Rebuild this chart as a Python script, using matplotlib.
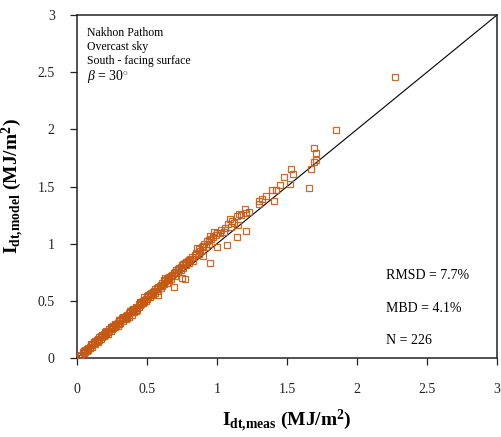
import matplotlib
matplotlib.use("Agg")
import matplotlib.pyplot as plt

plt.rcParams["font.family"] = ["Liberation Serif", "DejaVu Serif"]
plt.rcParams["mathtext.fontset"] = "custom"
plt.rcParams["mathtext.rm"] = "Liberation Serif"
plt.rcParams["mathtext.it"] = "Liberation Serif:italic"
plt.rcParams["mathtext.bf"] = "Liberation Serif:bold"

meas = [
    0.02, 0.03, 0.04, 0.05, 0.05, 0.06, 0.07, 0.07, 0.08, 0.08, 0.09, 0.09, 0.10, 0.10, 0.11, 0.11, 0.12, 0.12, 0.13, 0.13,
    0.14, 0.14, 0.15, 0.15, 0.16, 0.16, 0.17, 0.17, 0.18, 0.18, 0.19, 0.19, 0.20, 0.20, 0.20, 0.21, 0.21, 0.22, 0.22, 0.23,
    0.23, 0.24, 0.24, 0.25, 0.25, 0.26, 0.26, 0.27, 0.27, 0.28, 0.28, 0.29, 0.29, 0.30, 0.30, 0.30,
    0.31, 0.31, 0.32, 0.32, 0.33, 0.33, 0.34, 0.34, 0.35, 0.35, 0.36, 0.36, 0.37, 0.37, 0.38, 0.38, 0.39, 0.39, 0.40, 0.40,
    0.41, 0.41, 0.42, 0.42, 0.43, 0.43, 0.44, 0.44, 0.45, 0.45, 0.46, 0.46, 0.47, 0.47, 0.48, 0.48, 0.49, 0.49, 0.50, 0.50,
    0.51, 0.51,
    0.52, 0.52, 0.53, 0.54, 0.54, 0.55, 0.56, 0.56, 0.57, 0.58, 0.58, 0.59, 0.60, 0.60, 0.61, 0.62, 0.62, 0.63, 0.64, 0.64,
    0.65, 0.66, 0.66, 0.67, 0.68, 0.69, 0.69, 0.70, 0.70, 0.71, 0.72, 0.72, 0.73, 0.74, 0.74, 0.75, 0.75, 0.76, 0.77, 0.77,
    0.78, 0.78, 0.79, 0.80, 0.80,
    0.81, 0.82, 0.83, 0.84, 0.85, 0.86, 0.87, 0.87, 0.88, 0.89, 0.90, 0.90, 0.91, 0.92, 0.93, 0.94, 0.94, 0.95, 0.95, 0.96,
    0.97, 0.98, 0.99, 1.00, 1.00, 1.02, 1.03, 1.05, 1.06, 1.07, 1.08, 1.09, 1.10, 1.11, 1.12, 1.14, 1.14, 1.15, 1.16, 1.17,
    1.20, 1.21, 1.21, 1.23,
    1.30, 1.30, 1.32, 1.35, 1.39, 1.41, 1.42, 1.45, 1.48, 1.52, 1.53, 1.54, 1.66, 1.67, 1.69, 1.69, 1.71, 1.71, 1.85, 2.27,
    0.06, 0.15, 0.18, 0.21, 0.24, 0.27, 0.33, 0.36, 0.39, 0.42, 0.45, 0.48, 0.53, 0.57, 0.61, 0.63, 0.67, 0.71, 0.76,
]
model = [
    0.02, 0.03, 0.05, 0.04, 0.06, 0.07, 0.06, 0.08, 0.09, 0.07, 0.10, 0.09, 0.11, 0.12, 0.10, 0.12, 0.13, 0.14, 0.12, 0.15,
    0.15, 0.16, 0.14, 0.17, 0.18, 0.16, 0.19, 0.17, 0.20, 0.18, 0.21, 0.19, 0.22, 0.20, 0.23, 0.22, 0.24, 0.23, 0.21, 0.25,
    0.24, 0.26, 0.24, 0.27, 0.25, 0.28, 0.26, 0.29, 0.27, 0.30, 0.29, 0.31, 0.28, 0.32, 0.30, 0.33,
    0.33, 0.31, 0.34, 0.35, 0.34, 0.32, 0.36, 0.35, 0.37, 0.34, 0.38, 0.37, 0.39, 0.36, 0.40, 0.41, 0.40, 0.38, 0.42, 0.43,
    0.42, 0.40, 0.44, 0.45, 0.44, 0.42, 0.47, 0.45, 0.48, 0.46, 0.49, 0.47, 0.50, 0.48, 0.51, 0.53, 0.52, 0.50, 0.54, 0.52,
    0.55, 0.53,
    0.56, 0.53, 0.57, 0.58, 0.55, 0.59, 0.60, 0.57, 0.61, 0.62, 0.55, 0.63, 0.64, 0.61, 0.66, 0.65, 0.68, 0.67, 0.69, 0.66,
    0.70, 0.71, 0.68, 0.72, 0.73, 0.62, 0.74, 0.75, 0.72, 0.77, 0.78, 0.75, 0.79, 0.80, 0.77, 0.70, 0.81, 0.82, 0.69, 0.83,
    0.84, 0.81, 0.85, 0.86, 0.83,
    0.87, 0.88, 0.85, 0.90, 0.92, 0.96, 0.95, 0.91, 0.94, 0.97, 0.89, 0.98, 1.00, 0.97, 1.02, 1.03, 1.00, 1.07, 0.83, 1.04,
    1.06, 1.10, 1.08, 0.97, 1.09, 1.09, 1.12, 1.10, 1.14, 0.99, 1.17, 1.22, 1.15, 1.20, 1.18, 1.24, 1.06, 1.16, 1.26, 1.25,
    1.30, 1.27, 1.11, 1.28,
    1.35, 1.37, 1.39, 1.42, 1.47, 1.37, 1.47, 1.51, 1.58, 1.52, 1.65, 1.61, 1.49, 1.65, 1.71, 1.84, 1.79, 1.73, 1.99, 2.46,
    0.05, 0.16, 0.19, 0.21, 0.27, 0.30, 0.36, 0.35, 0.42, 0.41, 0.49, 0.49, 0.55, 0.59, 0.63, 0.70, 0.69, 0.74, 0.79,
]

site_lines = ["Nakhon Pathom", "Overcast sky", "South - facing surface"]
tilt_label = r"$\beta$ = 30$^{\circ}$"
stats_lines = ["RMSD = 7.7%", "MBD = 4.1%", "N = 226"]
ticks = [0, 0.5, 1, 1.5, 2, 2.5, 3]
tick_labels = ["0", "0.5", "1", "1.5", "2", "2.5", "3"]

fig = plt.figure(figsize=(5.02, 4.37), dpi=100)
ax = fig.add_axes([77 / 502, 1 - 358 / 437, 420 / 502, 343 / 437])

ax.plot([0, 3], [0, 3], color="black", lw=0.8, zorder=2)
ax.plot(meas, model, ls="none", marker="s", ms=3.9, mfc="none", mec="#c55a14",
        mew=0.9, alpha=0.9, zorder=3)

ax.set_xlim(0, 3)
ax.set_ylim(0, 3)
ax.set_xticks(ticks)
ax.set_xticklabels(tick_labels)
ax.set_yticks(ticks)
ax.set_yticklabels(tick_labels)
ax.tick_params(direction="out", length=5, width=0.9, labelsize=10, colors="#222222")
ax.tick_params(axis="x", pad=13)
ax.tick_params(axis="y", pad=11)
for s in ax.spines.values():
    s.set_linewidth(1.1)
    s.set_color("#222222")

ax.set_xlabel(r"$\mathbf{I_{dt{,}meas}}$ $\mathbf{(MJ/m^{2})}$", fontsize=14, labelpad=8)
ax.set_ylabel(r"$\mathbf{I_{dt{,}model}}$ $\mathbf{(MJ/m^{2})}$", fontsize=14, labelpad=8)

for i, t in enumerate(site_lines):
    ax.text(0.024, 0.965 - i * 0.041, t, transform=ax.transAxes, fontsize=8.5,
            va="top", ha="left")
ax.text(0.024, 0.965 - 3 * 0.041 + 0.004, tilt_label, transform=ax.transAxes,
        fontsize=10, va="top", ha="left")
for i, t in enumerate(stats_lines):
    ax.text(0.736, 0.24 - i * 0.095, t, transform=ax.transAxes, fontsize=10,
            va="center", ha="left")

fig.savefig("out.png", dpi=100)
